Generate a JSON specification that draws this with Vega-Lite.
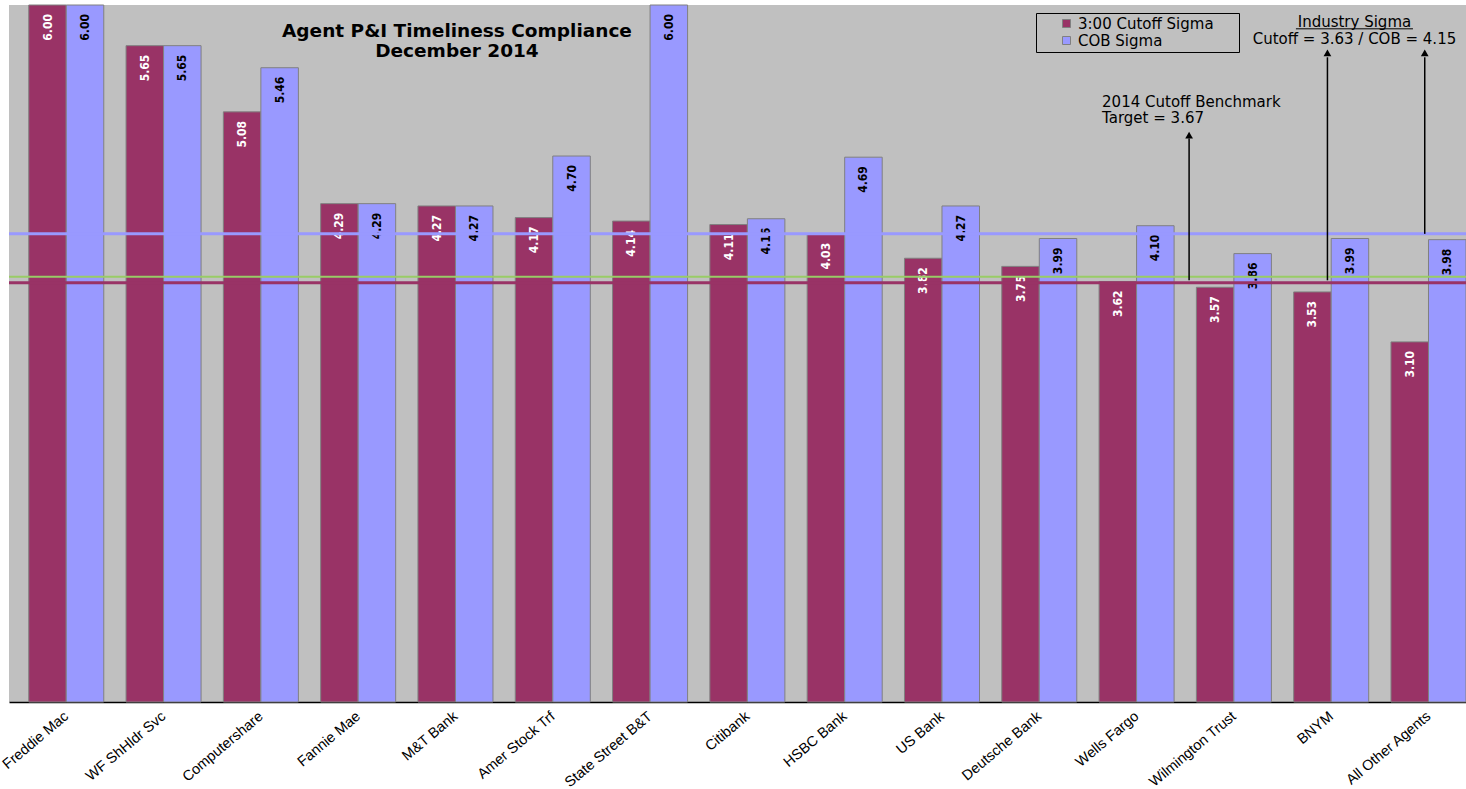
{
  "$schema": "https://vega.github.io/schema/vega-lite/v6.json",
  "width": 1457,
  "height": 697,
  "autosize": {"type": "none"},
  "padding": {"left": 9, "top": 5, "right": 0, "bottom": 87},
  "background": "white",
  "config": {"view": {"fill": "#C0C0C0", "stroke": null}, "font": "DejaVu Sans"},
  "datasets": {
    "bars": [
      {"agent": "Freddie Mac", "series": "3:00 Cutoff Sigma", "value": 6.00},
      {"agent": "Freddie Mac", "series": "COB Sigma", "value": 6.00},
      {"agent": "WF ShHldr Svc", "series": "3:00 Cutoff Sigma", "value": 5.65},
      {"agent": "WF ShHldr Svc", "series": "COB Sigma", "value": 5.65},
      {"agent": "Computershare", "series": "3:00 Cutoff Sigma", "value": 5.08},
      {"agent": "Computershare", "series": "COB Sigma", "value": 5.46},
      {"agent": "Fannie Mae", "series": "3:00 Cutoff Sigma", "value": 4.29},
      {"agent": "Fannie Mae", "series": "COB Sigma", "value": 4.29},
      {"agent": "M&T Bank", "series": "3:00 Cutoff Sigma", "value": 4.27},
      {"agent": "M&T Bank", "series": "COB Sigma", "value": 4.27},
      {"agent": "Amer Stock Trf", "series": "3:00 Cutoff Sigma", "value": 4.17},
      {"agent": "Amer Stock Trf", "series": "COB Sigma", "value": 4.70},
      {"agent": "State Street B&T", "series": "3:00 Cutoff Sigma", "value": 4.14},
      {"agent": "State Street B&T", "series": "COB Sigma", "value": 6.00},
      {"agent": "Citibank", "series": "3:00 Cutoff Sigma", "value": 4.11},
      {"agent": "Citibank", "series": "COB Sigma", "value": 4.16},
      {"agent": "HSBC Bank", "series": "3:00 Cutoff Sigma", "value": 4.03},
      {"agent": "HSBC Bank", "series": "COB Sigma", "value": 4.69},
      {"agent": "US Bank", "series": "3:00 Cutoff Sigma", "value": 3.82},
      {"agent": "US Bank", "series": "COB Sigma", "value": 4.27},
      {"agent": "Deutsche Bank", "series": "3:00 Cutoff Sigma", "value": 3.75},
      {"agent": "Deutsche Bank", "series": "COB Sigma", "value": 3.99},
      {"agent": "Wells Fargo", "series": "3:00 Cutoff Sigma", "value": 3.62},
      {"agent": "Wells Fargo", "series": "COB Sigma", "value": 4.10},
      {"agent": "Wilmington Trust", "series": "3:00 Cutoff Sigma", "value": 3.57},
      {"agent": "Wilmington Trust", "series": "COB Sigma", "value": 3.86},
      {"agent": "BNYM", "series": "3:00 Cutoff Sigma", "value": 3.53},
      {"agent": "BNYM", "series": "COB Sigma", "value": 3.99},
      {"agent": "All Other Agents", "series": "3:00 Cutoff Sigma", "value": 3.10},
      {"agent": "All Other Agents", "series": "COB Sigma", "value": 3.98}
    ]
  },
  "layer": [
    {
      "data": {"name": "bars"},
      "mark": {"type": "bar", "stroke": "#808080", "strokeWidth": 1},
      "encoding": {
        "x": {
          "field": "agent", "type": "nominal", "sort": null,
          "scale": {
            "domain": ["Freddie Mac", "WF ShHldr Svc", "Computershare", "Fannie Mae", "M&T Bank", "Amer Stock Trf", "State Street B&T", "Citibank", "HSBC Bank", "US Bank", "Deutsche Bank", "Wells Fargo", "Wilmington Trust", "BNYM", "All Other Agents"],
            "paddingInner": 0.229, "paddingOuter": 0.1015, "align": 1
          },
          "axis": {"title": null, "labelAngle": -40, "ticks": false, "domainColor": "black", "domainWidth": 1.5, "labelFont": "Liberation Sans", "labelFontSize": 14.5, "labelColor": "black", "labelPadding": 7, "labelOffset": -4}
        },
        "xOffset": {"field": "series", "type": "nominal", "sort": null, "scale": {"domain": ["3:00 Cutoff Sigma", "COB Sigma"], "paddingInner": 0, "paddingOuter": 0}},
        "y": {"field": "value", "type": "quantitative", "scale": {"domain": [0, 6], "nice": false}, "axis": null},
        "color": {
          "field": "series", "type": "nominal",
          "scale": {"domain": ["3:00 Cutoff Sigma", "COB Sigma"], "range": ["#993366", "#9999FF"]},
          "legend": {"title": null, "orient": "none", "legendX": 1027, "legendY": 8, "direction": "vertical", "strokeColor": "black", "fillColor": "#C0C0C0", "padding": 3, "symbolType": "square", "symbolSize": 64, "symbolStrokeColor": "#808080", "symbolStrokeWidth": 1, "symbolOffset": 20, "labelFont": "DejaVu Sans", "labelFontSize": 15, "labelColor": "black", "labelOffset": 4, "rowPadding": 1, "labelLimit": 400, "labelExpr": "datum.label + '\u2800\u2800'"}
        }
      }
    },
    {
      "data": {"name": "bars"},
      "mark": {"type": "text", "angle": 270, "align": "right", "baseline": "middle", "dx": -9, "font": "DejaVu Sans Condensed, Liberation Sans Narrow, DejaVu Sans", "fontWeight": "bold", "fontSize": 12},
      "encoding": {
        "x": {"field": "agent", "type": "nominal", "sort": null},
        "xOffset": {"field": "series", "type": "nominal", "sort": null},
        "y": {"field": "value", "type": "quantitative", "axis": null},
        "text": {"field": "value", "type": "quantitative", "format": ".2f"},
        "color": {"condition": {"test": "datum.series === 'COB Sigma'", "value": "black"}, "value": "white"}
      }
    },
    {
      "data": {"values": [{"line": "Industry COB Sigma", "value": 4.03}]},
      "mark": {"type": "rule", "color": "#9999FF", "strokeWidth": 3},
      "encoding": {"y": {"field": "value", "type": "quantitative", "axis": null}}
    },
    {
      "data": {"values": [{"line": "2014 Cutoff Benchmark", "value": 3.66}]},
      "mark": {"type": "rule", "color": "#99CC66", "strokeWidth": 2},
      "encoding": {"y": {"field": "value", "type": "quantitative", "axis": null}}
    },
    {
      "data": {"values": [{"line": "Industry Cutoff Sigma", "value": 3.61}]},
      "mark": {"type": "rule", "color": "#993366", "strokeWidth": 3},
      "encoding": {"y": {"field": "value", "type": "quantitative", "axis": null}}
    },
    {
      "data": {"values": [{"agent": "Wells Fargo", "from": 3.63, "to": 4.85, "tip": 4.88}]},
      "encoding": {"x": {"field": "agent", "type": "nominal", "sort": null, "bandPosition": 1.2}},
      "layer": [
        {"mark": {"type": "rule", "color": "black", "strokeWidth": 1.5}, "encoding": {"y": {"field": "from", "type": "quantitative", "axis": null}, "y2": {"field": "to"}}},
        {"mark": {"type": "point", "shape": "triangle-up", "filled": true, "color": "black", "size": 60, "opacity": 1}, "encoding": {"y": {"field": "tip", "type": "quantitative", "axis": null}}}
      ]
    },
    {
      "data": {"values": [{"agent": "BNYM", "from": 3.63, "to": 5.55, "tip": 5.587}, {"agent": "All Other Agents", "from": 4.03, "to": 5.55, "tip": 5.587}]},
      "encoding": {"x": {"field": "agent", "type": "nominal", "sort": null, "bandPosition": 0.45}},
      "layer": [
        {"mark": {"type": "rule", "color": "black", "strokeWidth": 1.5}, "encoding": {"y": {"field": "from", "type": "quantitative", "axis": null}, "y2": {"field": "to"}}},
        {"mark": {"type": "point", "shape": "triangle-up", "filled": true, "color": "black", "size": 60, "opacity": 1}, "encoding": {"y": {"field": "tip", "type": "quantitative", "axis": null}}}
      ]
    },
    {
      "data": {"values": [{"agent": "M&T Bank", "label": "Agent P&I Timeliness Compliance\nDecember 2014", "y": 5.727}]},
      "mark": {"type": "text", "align": "center", "baseline": "alphabetic", "lineBreak": "\n", "lineHeight": 20, "font": "DejaVu Sans", "fontWeight": "bold", "fontSize": 18.5, "color": "black"},
      "encoding": {
        "x": {"field": "agent", "type": "nominal", "sort": null, "bandPosition": 0.52},
        "y": {"field": "y", "type": "quantitative", "axis": null},
        "text": {"field": "label", "type": "nominal"}
      }
    },
    {
      "data": {"values": [{"agent": "Wells Fargo", "label": "2014 Cutoff Benchmark\nTarget  = 3.67", "y": 5.119}]},
      "mark": {"type": "text", "align": "left", "baseline": "alphabetic", "lineBreak": "\n", "lineHeight": 16, "font": "DejaVu Sans", "fontSize": 15, "color": "black"},
      "encoding": {
        "x": {"field": "agent", "type": "nominal", "sort": null, "bandPosition": 0.04},
        "y": {"field": "y", "type": "quantitative", "axis": null},
        "text": {"field": "label", "type": "nominal"}
      }
    },
    {
      "data": {"values": [{"agent": "BNYM", "label": "Industry Sigma", "y": 5.811}, {"agent": "BNYM", "label": "Cutoff = 3.63 / COB = 4.15", "y": 5.668}]},
      "mark": {"type": "text", "align": "center", "baseline": "alphabetic", "font": "DejaVu Sans", "fontSize": 15, "color": "black"},
      "encoding": {
        "x": {"field": "agent", "type": "nominal", "sort": null, "bandPosition": 0.81},
        "y": {"field": "y", "type": "quantitative", "axis": null},
        "text": {"field": "label", "type": "nominal"}
      }
    },
    {
      "data": {"values": [{"agent": "BNYM", "end": "All Other Agents", "y": 5.795}]},
      "mark": {"type": "rule", "color": "black", "strokeWidth": 1},
      "encoding": {
        "x": {"field": "agent", "type": "nominal", "sort": null, "bandPosition": 0.03},
        "x2": {"field": "end", "bandPosition": 0.293},
        "y": {"field": "y", "type": "quantitative", "axis": null}
      }
    }
  ]
}
